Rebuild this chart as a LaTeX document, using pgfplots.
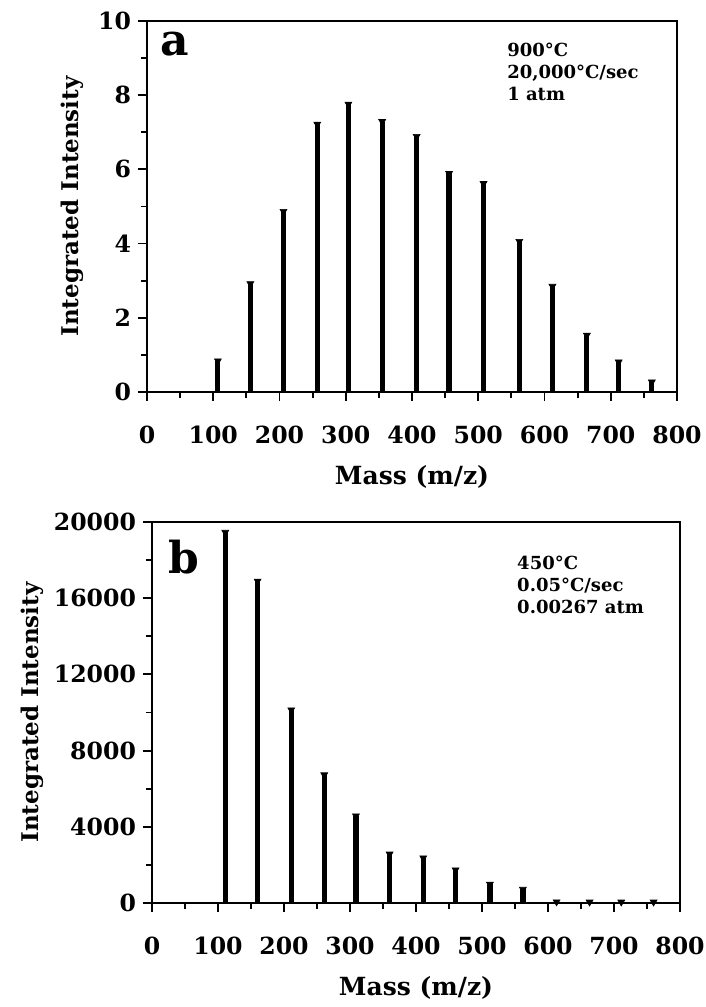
\documentclass[border=0pt]{standalone}
\usepackage{pgfplots}
\pgfplotsset{compat=1.18}
\usepackage{fontspec}
\setmainfont{DejaVu Serif}
\begin{document}
\begin{tikzpicture}
\pgfplotsset{
  panel/.style={
    scale only axis,
    xmin=0, xmax=800,
    xtick={0,100,...,800},
    minor xtick={50,150,...,750},
    tick pos=left,
    tick align=outside,
    major tick length=4.5pt,
    minor tick length=3pt,
    every tick/.style={line width=0.9pt, black},
    axis line style={line width=0.9pt},
    ticklabel style={font=\bfseries\fontsize{11.8}{13}\selectfont},
    xticklabel style={yshift=-9pt},
    /pgf/number format/assume math mode=true,
    /pgf/number format/1000 sep={},
    xlabel={Mass (m/z)},
    ylabel={Integrated Intensity},
    every axis x label/.style={at={(axis description cs:0.5,0)}, anchor=center, font=\bfseries\fontsize{12.5}{14}\selectfont},
    every axis y label/.style={at={(axis description cs:0,0.5)}, anchor=center, rotate=90, font=\bfseries\fontsize{11.5}{13}\selectfont},
    clip=false,
  },
  stem/.style={ycomb, black, line width=2.6pt, mark=triangle*, mark size=2pt, mark options={rotate=180, line width=0.3pt, fill=black}},
}
\path[use as bounding box] (-76pt,-52pt) rectangle (277pt,451.5pt);

% Panel a
\begin{axis}[panel, at={(-2.5pt,255.5pt)}, anchor=south west,
  width=265pt, height=185.5pt,
  ymin=0, ymax=10, ytick={0,2,...,10}, minor ytick={1,3,...,9},
  x label style={at={(axis description cs:0.5,-0.229)}},
  y label style={at={(axis description cs:-0.1415,0.5)}},
]
\addplot[stem] coordinates {
(107,0.84) (156,2.92) (206,4.87) (257,7.22) (304,7.76) (355,7.29) (407,6.89)
(456,5.89) (508,5.62) (562,4.06) (612,2.85) (664,1.53) (712,0.81) (762,0.27)
};
\node[anchor=base west, font=\bfseries\fontsize{22}{24}\selectfont, inner sep=0pt] at (axis description cs:0.0245,0.908) {a};
\node[anchor=north west, align=left, inner sep=0pt, font=\bfseries\fontsize{9}{11}\selectfont] at (axis description cs:0.679,0.941) {900°C\\20,000°C/sec\\1 atm};
\end{axis}

% Panel b
\begin{axis}[panel, at={(0pt,0pt)}, anchor=south west,
  width=264pt, height=190.5pt,
  ymin=0, ymax=20000, ytick={0,4000,...,20000}, minor ytick={2000,6000,...,18000},
  scaled y ticks=false,
  x label style={at={(axis description cs:0.5,-0.223)}},
  y label style={at={(axis description cs:-0.2273,0.5)}},
]
\addplot[stem] coordinates {
(111,19460) (160,16900) (211,10140) (261,6730) (309,4570) (360,2570) (411,2370)
(460,1740) (512,990) (562,720) (613,60) (663,50) (711,50) (760,50)
};
\node[anchor=base west, font=\bfseries\fontsize{22}{24}\selectfont, inner sep=0pt] at (axis description cs:0.030,0.866) {b};
\node[anchor=north west, align=left, inner sep=0pt, font=\bfseries\fontsize{9}{11}\selectfont] at (axis description cs:0.691,0.913) {450°C\\0.05°C/sec\\0.00267 atm};
\end{axis}
\end{tikzpicture}
\end{document}
